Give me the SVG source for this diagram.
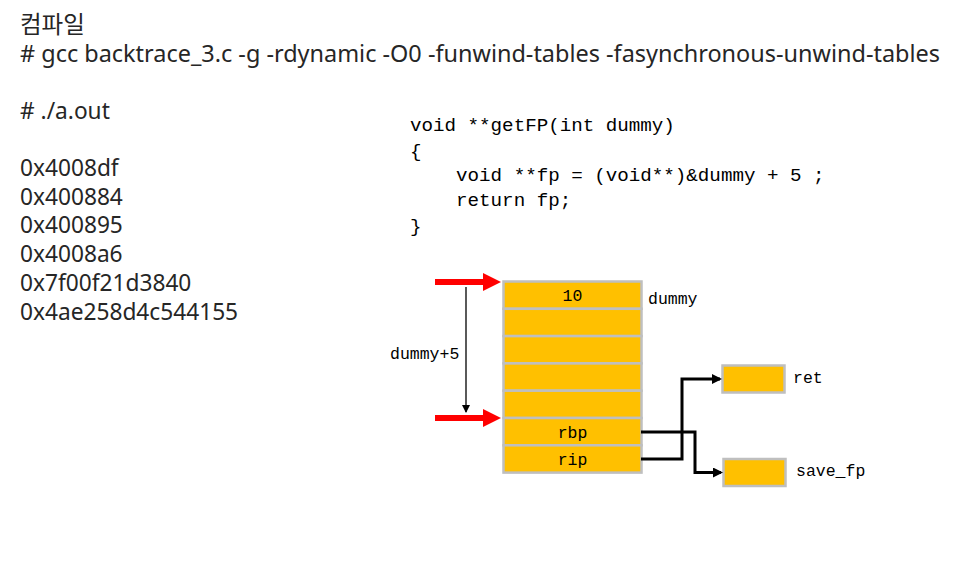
<svg xmlns="http://www.w3.org/2000/svg" width="960" height="576" viewBox="0 0 960 576">
<defs>
<style>
.t{font-family:"Noto Sans","Open Sans","Noto Sans CJK KR",sans-serif;font-size:22.7px;fill:#262626}
.k{font-family:"Noto Sans CJK KR","Noto Sans",sans-serif;font-size:23.5px;fill:#262626}
.code{font-family:"Liberation Mono","DejaVu Sans Mono",monospace;font-size:19.2px;fill:#000}
.lbl{font-family:"Liberation Mono","DejaVu Sans Mono",monospace;font-size:16.5px;fill:#000}
.cell{fill:#FFC000;stroke:#BFBFBF;stroke-width:2.5}
.conn{fill:none;stroke:#000;stroke-width:3}
</style>
<marker id="ah" markerWidth="10" markerHeight="10" refX="8" refY="5" orient="auto" markerUnits="userSpaceOnUse">
<path d="M0,0 L10,5 L0,10 z" fill="#000"/>
</marker>
<marker id="ahs" markerWidth="8" markerHeight="8" refX="7" refY="4" orient="auto" markerUnits="userSpaceOnUse">
<path d="M0,0 L8,4 L0,8 z" fill="#000"/>
</marker>
</defs>
<rect width="960" height="576" fill="#fff"/>

<g id="header">
<text class="k" x="20" y="33">컴파일</text>
<text class="t" x="20" y="62" textLength="920" lengthAdjust="spacingAndGlyphs"># gcc backtrace_3.c -g -rdynamic -O0 -funwind-tables -fasynchronous-unwind-tables</text>
<text class="t" x="20" y="119"># ./a.out</text>
</g>

<g id="output">
<text class="t" x="20" y="176">0x4008df</text>
<text class="t" x="20" y="205">0x400884</text>
<text class="t" x="20" y="233">0x400895</text>
<text class="t" x="20" y="262">0x4008a6</text>
<text class="t" x="20" y="291">0x7f00f21d3840</text>
<text class="t" x="20" y="320">0x4ae258d4c544155</text>
</g>

<g id="code">
<text class="code" x="410" y="131" xml:space="preserve">void **getFP(int dummy)</text>
<text class="code" x="410" y="157" xml:space="preserve">{</text>
<text class="code" x="410" y="181" xml:space="preserve">    void **fp = (void**)&amp;dummy + 5 ;</text>
<text class="code" x="410" y="206" xml:space="preserve">    return fp;</text>
<text class="code" x="410" y="232" xml:space="preserve">}</text>
</g>

<g id="stack">
<rect class="cell" x="503.5" y="281.5" width="138" height="27.3"/>
<rect class="cell" x="503.5" y="308.8" width="138" height="27.3"/>
<rect class="cell" x="503.5" y="336.1" width="138" height="27.3"/>
<rect class="cell" x="503.5" y="363.4" width="138" height="27.3"/>
<rect class="cell" x="503.5" y="390.7" width="138" height="27.3"/>
<rect class="cell" x="503.5" y="418" width="138" height="27.3"/>
<rect class="cell" x="503.5" y="445.3" width="138" height="27.3"/>
<text class="lbl" x="572.5" y="301" text-anchor="middle">10</text>
<text class="lbl" x="572.5" y="438" text-anchor="middle">rbp</text>
<text class="lbl" x="572.5" y="465" text-anchor="middle">rip</text>
<text class="lbl" x="648" y="304">dummy</text>
</g>

<g id="ret">
<rect class="cell" x="722.5" y="365.5" width="62" height="27"/>
<text class="lbl" x="793" y="383">ret</text>
</g>

<g id="save_fp">
<rect class="cell" x="723.5" y="459" width="62" height="27"/>
<text class="lbl" x="796" y="476">save_fp</text>
</g>

<g id="pointers">
<line x1="435" y1="282" x2="487" y2="282" stroke="#FF0000" stroke-width="6"/>
<polygon points="483,273 501,282 483,291" fill="#FF0000"/>
<line x1="435" y1="418" x2="487" y2="418" stroke="#FF0000" stroke-width="6"/>
<polygon points="483,409 501,418 483,427" fill="#FF0000"/>
<line x1="466" y1="287" x2="466" y2="412" stroke="#000" stroke-width="1.3" marker-end="url(#ahs)"/>
<text class="lbl" x="390" y="359">dummy+5</text>
</g>

<g id="connectors">
<polyline class="conn" points="641,432 695,432 695,472.5 721,472.5" marker-end="url(#ah)"/>
<polyline class="conn" points="641,459 682,459 682,379 720,379" marker-end="url(#ah)"/>
</g>
</svg>
